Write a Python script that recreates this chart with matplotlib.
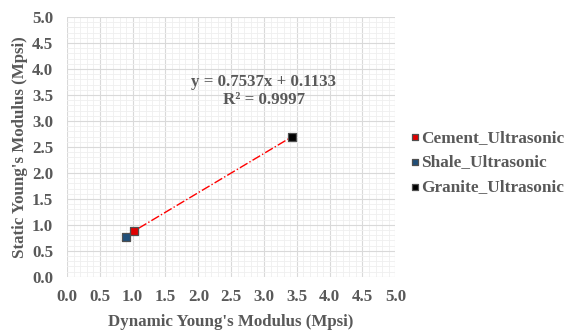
import matplotlib.pyplot as plt
import numpy as np

plt.rcParams['font.family'] = ['Liberation Serif', 'DejaVu Serif']

labels = ['Cement_Ultrasonic', 'Shale_Ultrasonic', 'Granite_Ultrasonic']
dynamic = [1.02, 0.90, 3.43]
static = [0.89, 0.76, 2.70]
colors = ['#e00000', '#1f4e79', '#000000']
slope, intercept = 0.7537, 0.1133
ticks = np.arange(0, 5.01, 0.5)

fig = plt.figure(figsize=(5.75, 3.32), dpi=100)
ax = fig.add_axes([0.1165, 0.166, 0.571, 0.783])

txt = '#595959'
fs = 12.2
ax.set_xlim(0, 5)
ax.set_ylim(0, 5)
ax.set_xticks(ticks, [f'{v:.1f}' for v in ticks], fontweight='bold')
ax.set_yticks(ticks, [f'{v:.1f}' for v in ticks], fontweight='bold')
ax.set_xticks(np.arange(0, 5.01, 0.1), minor=True)
ax.set_yticks(np.arange(0, 5.01, 0.1), minor=True)
ax.grid(which='major', color='#d9d9d9', lw=0.8)
ax.grid(which='minor', color='#efefef', lw=0.6)
ax.set_axisbelow(True)
for s in ax.spines.values():
    s.set_visible(False)
ax.tick_params(which='both', length=0, colors=txt, labelsize=fs)
ax.tick_params(axis='x', pad=9)
ax.tick_params(axis='y', pad=10)

xf = np.array([min(dynamic), max(dynamic)])
ax.plot(xf, slope * xf + intercept, color='#ff0000', ls='-.', lw=1.0, zorder=2)

for x, y, c, l in zip(dynamic, static, colors, labels):
    ax.scatter(x, y, marker='s', s=36, color=c, edgecolors='#505050', linewidths=0.9,
               zorder=3, label=l)

ax.text(3.0, 3.57, f'y = {slope}x + {intercept}\nR² = 0.9997', ha='center', va='center',
        fontsize=fs, fontweight='bold', color=txt, linespacing=1.15)

ax.set_xlabel("Dynamic Young's Modulus (Mpsi)", fontsize=fs, fontweight='bold', color=txt,
              labelpad=6)
ax.set_ylabel("Static Young's Modulus (Mpsi)", fontsize=fs, fontweight='bold', color=txt,
              labelpad=3)

leg = ax.legend(loc='center left', bbox_to_anchor=(1.0, 0.44), frameon=False,
                prop={'weight': 'bold', 'size': 12.4}, handletextpad=0.1,
                markerscale=0.65, labelspacing=0.5, handlelength=0.5)
for t in leg.get_texts():
    t.set_color(txt)

fig.savefig('out.png', dpi=100)
